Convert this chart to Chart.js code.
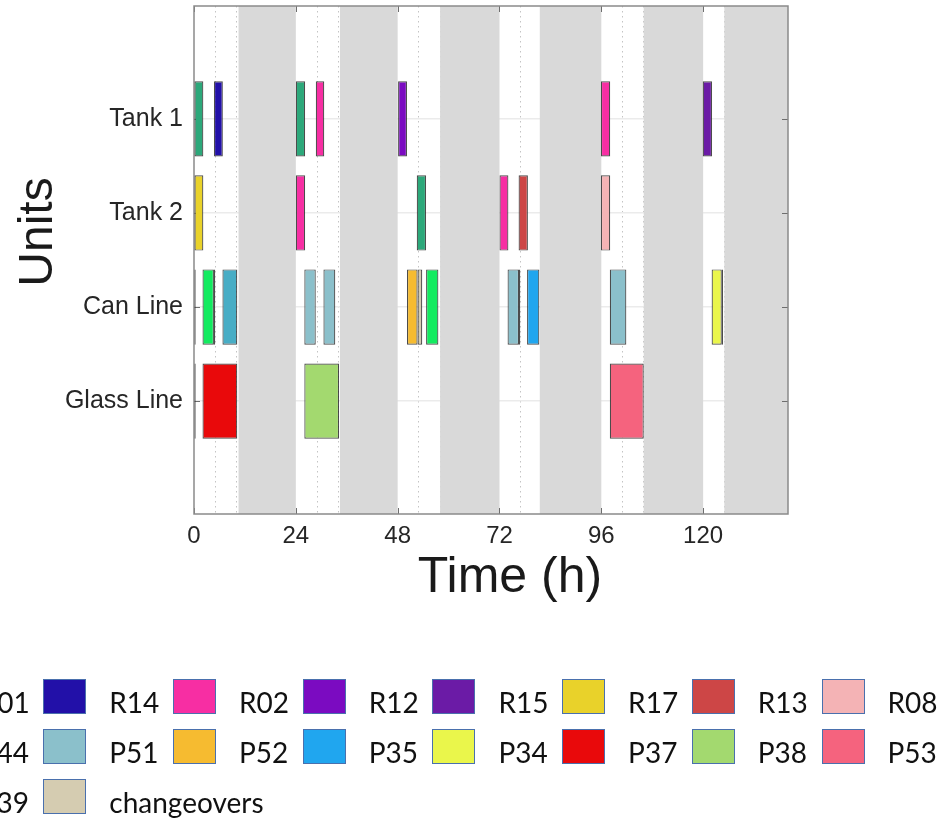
<!DOCTYPE html>
<html>
<head>
<meta charset="utf-8">
<title>Production schedule</title>
<script src="https://cdn.jsdelivr.net/npm/chart.js@4/dist/chart.umd.min.js"></script>
<style>
  html, body { margin: 0; padding: 0; background: #ffffff; overflow: hidden; }
  #wrap { position: relative; width: 940px; height: 818px; overflow: hidden; }
  #gantt { position: absolute; left: 0; top: 0; }
  #legend { position: absolute; left: 0; top: 0; width: 940px; height: 818px; pointer-events: none;
            font-family: Lato, "Open Sans", "Noto Sans", sans-serif; }
  .swatch { position: absolute; width: 43px; height: 35px; box-sizing: border-box; border: 1.5px solid #4a70ad; }
  .name { position: absolute; font-size: 28px; line-height: 28px; color: #111111; white-space: nowrap; }
</style>
</head>
<body>
<div id="wrap">
  <canvas id="gantt" width="940" height="818"></canvas>
  <div id="legend"></div>
</div>
<script>
// Units (rows) and time axis
const units = ['Tank 1', 'Tank 2', 'Can Line', 'Glass Line'];
const unitRows = [1, 2, 3, 4];
const hourTicks = [0, 24, 48, 72, 96, 120];
const minorHours = [5, 10, 29, 34, 53, 58, 77, 82, 101, 106, 125, 130];

// Non-working periods (h)
const offShiftStart = [10.5, 34.4, 58, 81.5, 106, 125];
const offShiftEnd   = [24, 48, 72, 96, 120, 140];

// Products, in legend order
const products = ['R01', 'R14', 'R02', 'R12', 'R15', 'R17', 'R13', 'R08',
                  'P44', 'P51', 'P52', 'P35', 'P34', 'P37', 'P38', 'P53',
                  'P39', 'changeovers'];
const productColours = ['#2ca87a', '#2210a8', '#f72ea3', '#7b0bc1', '#6b1ba6', '#e9d22a', '#cd4646', '#f4b3b5',
                        '#48adc5', '#8bc0cb', '#f6bb30', '#20a6ef', '#eaf64b', '#e9090b', '#a3d96f', '#f5637e',
                        '#13eb60', '#d5ccb1'];

// Schedule: one entry per task
const taskProduct = [
  'R01', 'R14', 'R01', 'R02', 'R12', 'R02', 'R15',
  'R17', 'R02', 'R01', 'R02', 'R13', 'R08',
  'changeovers', 'P39', 'changeovers', 'P44', 'P51', 'P51', 'P52', 'changeovers', 'P39',
  'P51', 'changeovers', 'P35', 'P51', 'P34', 'changeovers',
  'changeovers', 'P37', 'P38', 'P53'
];
const taskUnit = [
  1, 1, 1, 1, 1, 1, 1,
  2, 2, 2, 2, 2, 2,
  3, 3, 3, 3, 3, 3, 3, 3, 3,
  3, 3, 3, 3, 3, 3,
  4, 4, 4, 4
];
const taskStart = [
  0, 4.7, 24, 28.7, 48.1, 95.9, 119.9,
  0, 24, 52.5, 72, 76.5, 95.9,
  0, 2, 4.7, 6.7, 26, 30.5, 50.2, 52.7, 54.7,
  73.9, 76.6, 78.5, 98, 122, 124.4,
  0, 2, 26, 98
];
const taskEnd = [
  2.2, 6.8, 26.2, 30.7, 50.2, 98.1, 122.1,
  2.2, 26.2, 54.7, 74.1, 78.7, 98.1,
  0.4, 4.7, 5.0, 10.2, 28.7, 33.3, 52.7, 53.8, 57.6,
  76.6, 76.9, 81.4, 101.9, 124.4, 124.7,
  0.4, 10.2, 34.2, 106
];

const xTitle = 'Time (h)';
const yTitle = 'Units';

const datasets = products.map((name, p) => ({
  label: name,
  backgroundColor: productColours[p],
  data: taskProduct
    .map((prod, i) => prod === name ? { x: [taskStart[i], taskEnd[i]], y: taskUnit[i] } : null)
    .filter(d => d !== null)
}));

const xTickFont = { family: '"Liberation Sans", Arial, sans-serif', size: 24 };
const yTickFont = { family: '"Liberation Sans", Arial, sans-serif', size: 25 };

// Grey bands for the non-working periods, painted over the grid and under the bars
const offShifts = {
  id: 'offShifts',
  beforeDatasetsDraw(chart) {
    const { ctx, chartArea: a, scales: { x } } = chart;
    ctx.save();
    ctx.fillStyle = '#d9d9d9';
    offShiftStart.forEach((s, i) => {
      const l = x.getPixelForValue(s), r = x.getPixelForValue(offShiftEnd[i]);
      ctx.fillRect(l, a.top, r - l, a.bottom - a.top);
    });
    ctx.restore();
  }
};

// Box around the plot with inward tick marks on all four sides (bars sit on top of it)
const frame = {
  id: 'frame',
  beforeDatasetsDraw(chart) {
    const { ctx, chartArea: a, scales: { x, y } } = chart;
    ctx.save();
    ctx.strokeStyle = '#6e6e6e';
    ctx.lineWidth = 1;
    ctx.beginPath();
    hourTicks.forEach(v => {
      const px = Math.round(x.getPixelForValue(v)) + 0.5;
      ctx.moveTo(px, a.bottom); ctx.lineTo(px, a.bottom - 6);
      ctx.moveTo(px, a.top); ctx.lineTo(px, a.top + 6);
    });
    unitRows.forEach(v => {
      const py = Math.round(y.getPixelForValue(v)) + 0.5;
      ctx.moveTo(a.left, py); ctx.lineTo(a.left + 6, py);
      ctx.moveTo(a.right, py); ctx.lineTo(a.right - 6, py);
    });
    ctx.stroke();
    ctx.strokeStyle = '#8a8a8a';
    ctx.lineWidth = 1.5;
    ctx.strokeRect(a.left, a.top, a.right - a.left, a.bottom - a.top);
    ctx.restore();
  }
};

// Axis titles
const axisTitles = {
  id: 'axisTitles',
  afterDraw(chart) {
    const { ctx, chartArea: a } = chart;
    ctx.save();
    ctx.fillStyle = '#1a1a1a';
    ctx.textAlign = 'center';
    ctx.textBaseline = 'alphabetic';
    ctx.font = '50px "Liberation Sans", Arial, sans-serif';
    ctx.fillText(xTitle, (a.left + a.right) / 2 + 19, a.bottom + 78);
    ctx.font = '48px "Liberation Sans", Arial, sans-serif';
    ctx.translate(52, (a.top + a.bottom) / 2 - 28);
    ctx.rotate(-Math.PI / 2);
    ctx.fillText(yTitle, 0, 0);
    ctx.restore();
  }
};

// Legend rendered as HTML below the chart
const legendColumns = 8;
const htmlLegend = {
  id: 'htmlLegend',
  afterUpdate(chart) {
    const box = document.getElementById('legend');
    box.innerHTML = '';
    chart.data.datasets.forEach((ds, i) => {
      const col = i % legendColumns, row = Math.floor(i / legendColumns);
      const left = -86.4 + col * 129.7;
      const top = 679 + row * 50;
      const sw = document.createElement('div');
      sw.className = 'swatch';
      sw.style.left = left + 'px';
      sw.style.top = top + 'px';
      sw.style.background = ds.backgroundColor;
      const tx = document.createElement('div');
      tx.className = 'name';
      tx.style.left = (left + 66) + 'px';
      tx.style.top = (top + 9) + 'px';
      tx.textContent = ds.label;
      box.appendChild(sw);
      box.appendChild(tx);
    });
  }
};

const noEdgePadding = s => { s.paddingTop = 0; s.paddingBottom = 0; s.paddingLeft = 0; s.paddingRight = 0; };

new Chart(document.getElementById('gantt'), {
  type: 'bar',
  data: { datasets },
  options: {
    indexAxis: 'y',
    responsive: false,
    animation: false,
    layout: { padding: { top: 6, right: 152, left: 0, bottom: 0 } },
    plugins: { legend: { display: false }, tooltip: { enabled: false } },
    datasets: {
      bar: {
        grouped: false,
        barPercentage: 1,
        categoryPercentage: 0.8,
        borderWidth: 1.2,
        borderColor: 'rgba(45,45,45,0.85)',
        borderSkipped: false
      }
    },
    scales: {
      x: {
        type: 'linear',
        position: 'bottom',
        min: 0,
        max: 140,
        offset: false,
        afterBuildTicks: s => { s.ticks = hourTicks.concat(minorHours).sort((a, b) => a - b).map(v => ({ value: v })); },
        afterFit: s => { s.height = 818 - 514; noEdgePadding(s); },
        ticks: {
          autoSkip: false, maxRotation: 0, padding: 8, color: '#262626', font: xTickFont,
          callback: v => hourTicks.includes(v) ? String(v) : ''
        },
        grid: {
          offset: false,
          drawTicks: false,
          lineWidth: 1,
          color: c => (c.tick && minorHours.includes(c.tick.value)) ? '#c4c4c4' : 'rgba(0,0,0,0)'
        },
        border: {
          display: false,
          dash: c => (c.tick && minorHours.includes(c.tick.value)) ? [1.5, 3.5] : []
        }
      },
      y: {
        type: 'linear',
        reverse: true,
        min: -0.2,
        max: 5.2,
        offset: false,
        afterBuildTicks: s => { s.ticks = unitRows.map(v => ({ value: v })); },
        afterFit: s => { s.width = 194; noEdgePadding(s); },
        ticks: {
          autoSkip: false, padding: 11, color: '#262626', font: yTickFont,
          callback: v => units[unitRows.indexOf(v)]
        },
        grid: { offset: false, drawTicks: false, lineWidth: 1.5, color: '#ebebeb' },
        border: { display: false }
      }
    }
  },
  plugins: [offShifts, frame, axisTitles, htmlLegend]
});
</script>
</body>
</html>
